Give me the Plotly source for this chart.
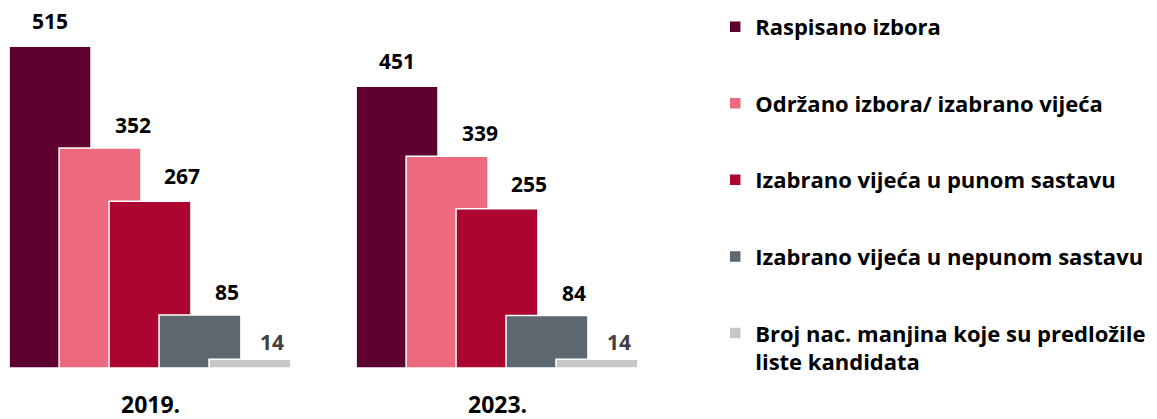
import plotly.graph_objects as go

years = ["2019.", "2023."]
series = [
    "Raspisano izbora",
    "Održano izbora/ izabrano vijeća",
    "Izabrano vijeća u punom sastavu",
    "Izabrano vijeća u nepunom sastavu",
    "Broj nac. manjina koje su predložile<br>liste kandidata",
]
raspisano = [515, 451]
odrzano = [352, 339]
puni = [267, 255]
nepuni = [85, 84]
manjine = [14, 14]
values = [raspisano, odrzano, puni, nepuni, manjine]
colors = ["#5E0030", "#EC697E", "#AC052F", "#5C6770", "#C8C8C8"]
label_colors = ["#000000", "#000000", "#000000", "#000000", "#404040"]
# label placement tweaks (pixels)
label_dx = [0, 33, 32, 27, 22]
label_dy = [25, 23, 25, 23, 17]

FONT = "Open Sans"
W = 0.236
step = 0.144
start = -0.406
xpos = [0, 1]

fig = go.Figure()
for i, (name, vals, col) in enumerate(zip(series, values, colors)):
    fig.add_trace(go.Bar(
        x=xpos, y=vals, name=name,
        width=W, offset=start + step * i,
        marker=dict(color=col, line=dict(color="white", width=1.5)),
        legendgroup=str(i),
    ))
    for xv, v in zip(xpos, vals):
        fig.add_annotation(
            x=xv + start + step * i + W / 2, y=v, xref="x", yref="y",
            text=f"<b>{v}</b>", showarrow=False,
            xshift=label_dx[i], yshift=label_dy[i],
            font=dict(family=FONT, size=21, color=label_colors[i]),
        )

for xv, yl in zip(xpos, years):
    fig.add_annotation(
        x=xv, y=0, xref="x", yref="y", text=f"<b>{yl}</b>", showarrow=False,
        yshift=-36, font=dict(family=FONT, size=23, color="#000000"),
    )

fig.update_layout(
    width=1157, height=419,
    margin=dict(l=0, r=507, t=0, b=59, autoexpand=False),
    barmode="overlay",
    plot_bgcolor="white", paper_bgcolor="white",
    font=dict(family=FONT, size=18, color="#000000"),
    xaxis=dict(range=[-142 / 347, 508 / 347], visible=False),
    yaxis=dict(range=[0, 576], visible=False),
    showlegend=True,
    legend=dict(
        x=1.088, xanchor="left", y=1.006, yanchor="top",
        traceorder="grouped", tracegroupgap=45, valign="top",
        font=dict(family=FONT, size=22, color="#000000", weight="bold"),
        bgcolor="rgba(0,0,0,0)", maxheight=419,
    ),
)

fig.write_html("out.html")
